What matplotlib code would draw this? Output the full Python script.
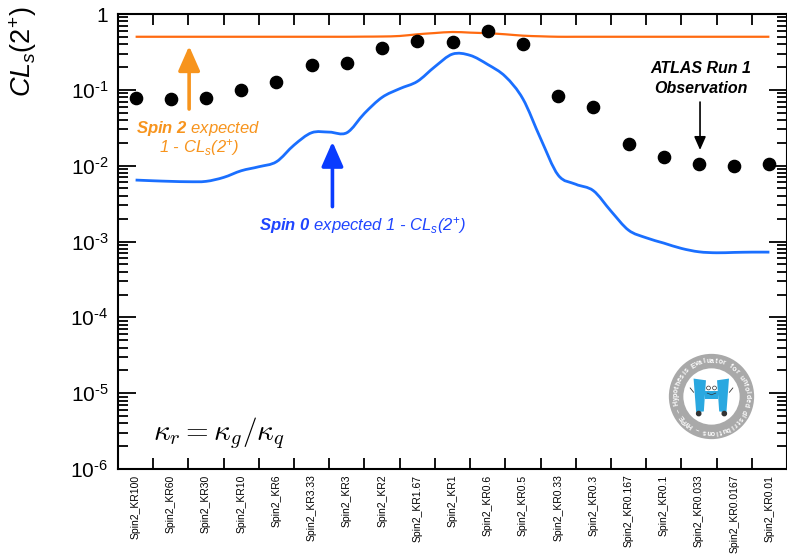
import numpy as np
import matplotlib
matplotlib.use("Agg")
import matplotlib.pyplot as plt
from matplotlib.patches import Circle, Polygon, PathPatch
from matplotlib.path import Path

plt.rcParams["font.family"] = ["Liberation Sans", "DejaVu Sans"]
plt.rcParams["mathtext.fontset"] = "custom"
plt.rcParams["mathtext.rm"] = "Liberation Sans"
plt.rcParams["mathtext.it"] = "Liberation Sans:italic"
plt.rcParams["mathtext.bf"] = "Liberation Sans:bold"
plt.rcParams["mathtext.bfit"] = "Liberation Sans:italic:bold"

hypotheses = ["Spin2_KR100", "Spin2_KR60", "Spin2_KR30", "Spin2_KR10", "Spin2_KR6",
              "Spin2_KR3.33", "Spin2_KR3", "Spin2_KR2", "Spin2_KR1.67", "Spin2_KR1",
              "Spin2_KR0.6", "Spin2_KR0.5", "Spin2_KR0.33", "Spin2_KR0.3", "Spin2_KR0.167",
              "Spin2_KR0.1", "Spin2_KR0.033", "Spin2_KR0.0167", "Spin2_KR0.01"]

# ATLAS Run 1 observed CLs(2+)
observed = [0.077, 0.076, 0.079, 0.100, 0.125, 0.212, 0.223, 0.36, 0.44, 0.43,
            0.60, 0.40, 0.083, 0.0587, 0.0193, 0.0132, 0.0105, 0.0100, 0.0104]

curve_pos = np.arange(0, 18.5, 0.5)
spin2_expected = [0.501, 0.501, 0.501, 0.501, 0.501, 0.501, 0.501, 0.501, 0.501,
                  0.501, 0.501, 0.501, 0.501, 0.503, 0.505, 0.513, 0.540, 0.561,
                  0.579, 0.568, 0.557, 0.540, 0.518, 0.508, 0.501, 0.501, 0.501,
                  0.501, 0.501, 0.501, 0.501, 0.501, 0.501, 0.501, 0.501, 0.501, 0.501]
spin0_expected = [0.00646, 0.00632, 0.00621, 0.00614, 0.00621, 0.0070, 0.00857,
                  0.00968, 0.01127, 0.0187, 0.0272, 0.0277, 0.0272, 0.049, 0.0796,
                  0.1035, 0.129, 0.202, 0.296, 0.285, 0.216, 0.150, 0.0759, 0.0229,
                  0.00752, 0.00569, 0.00468, 0.00252, 0.00141, 0.00112, 0.000953,
                  0.000811, 0.000731, 0.00071, 0.000718, 0.000724, 0.000724]

ytick_vals = [1e-6, 1e-5, 1e-4, 1e-3, 1e-2, 1e-1, 1]
ytick_labels = [r"$\mathregular{10^{\text{-}6}}$", r"$\mathregular{10^{\text{-}5}}$",
                r"$\mathregular{10^{\text{-}4}}$", r"$\mathregular{10^{\text{-}3}}$",
                r"$\mathregular{10^{\text{-}2}}$", r"$\mathregular{10^{\text{-}1}}$", "1"]


def smooth_path(x, y):
    # ROOT "C"-style drawing: cubic Bezier segments through the points (log-y space)
    px = np.asarray(x, dtype=float)
    py = np.log10(np.asarray(y, dtype=float))
    n = len(px)
    verts = [(px[0], py[0])]
    codes = [Path.MOVETO]
    for i in range(n - 1):
        i0, i3 = max(i - 1, 0), min(i + 2, n - 1)
        c1 = (px[i] + (px[i + 1] - px[i0]) / 6, py[i] + (py[i + 1] - py[i0]) / 6)
        c2 = (px[i + 1] - (px[i3] - px[i]) / 6, py[i + 1] - (py[i3] - py[i]) / 6)
        verts += [c1, c2, (px[i + 1], py[i + 1])]
        codes += [Path.CURVE4] * 3
    verts = [(vx, 10 ** vy) for vx, vy in verts]
    return Path(verts, codes)


fig = plt.figure(figsize=(7.87, 5.59), dpi=100)
ax = fig.add_axes([118 / 787, 1 - 469 / 559, 669 / 787, 455 / 559])
ax.set_yscale("log")
ax.set_ylim(1e-6, 1)
ax.set_xlim(-0.5, len(hypotheses) - 0.5)

ax.add_patch(PathPatch(smooth_path(curve_pos, spin2_expected), facecolor="none",
                       edgecolor="#ff6a10", lw=1.6, zorder=2))
ax.add_patch(PathPatch(smooth_path(curve_pos, spin0_expected), facecolor="none",
                       edgecolor="#1a6fff", lw=2.0, zorder=2))
ax.plot(range(len(hypotheses)), observed, "o", color="black", ms=8.8, zorder=3)

# axes styling, ROOT-like
for s in ax.spines.values():
    s.set_linewidth(1.5)
ax.set_yticks(ytick_vals)
ax.set_yticklabels(ytick_labels, fontsize=15)
ax.yaxis.set_minor_locator(matplotlib.ticker.LogLocator(base=10, subs=np.arange(2, 10)))
ax.yaxis.set_minor_formatter(matplotlib.ticker.NullFormatter())
ax.tick_params(axis="y", which="both", direction="in", left=True, right=True, width=1.3)
ax.tick_params(axis="y", which="major", length=13, pad=7)
ax.tick_params(axis="y", which="minor", length=7)

ax.set_xticks(range(len(hypotheses)))
ax.set_xticklabels(hypotheses, rotation=90, fontsize=7.5)
ax.set_xticks(np.arange(0.5, len(hypotheses) - 1, 1), minor=True)
ax.tick_params(axis="x", which="major", length=0, pad=4)
ax.tick_params(axis="x", which="minor", direction="in", top=True, bottom=True,
               length=8, width=1.3)

fig.text(23 / 787, 1 - 6 / 559, r"$\mathit{CL_{s}(2^{+})}$", rotation=90,
         ha="center", va="top", fontsize=19.5)

# annotations
orange = "#f7941d"
blue = "#1f45ff"
ax.annotate("", xy=(1.52, 0.378), xytext=(1.52, 0.0558),
            arrowprops=dict(arrowstyle="-|>,head_length=0.75,head_width=0.33",
                            color=orange, lw=2.6, mutation_scale=20, shrinkA=0, shrinkB=0))
ax.text(1.77, 0.0313, r"$\mathbfit{Spin\ 2}$ expected", color=orange, style="italic",
        fontsize=12, ha="center", va="center")
ax.text(1.81, 0.0171, r"1 - $\mathit{CL_{s}}$(2$^{+}$)", color=orange, style="italic",
        fontsize=12, ha="center", va="center")

ax.annotate("", xy=(5.59, 0.0207), xytext=(5.59, 0.00288),
            arrowprops=dict(arrowstyle="-|>,head_length=0.75,head_width=0.33",
                            color="#0a3cff", lw=2.6, mutation_scale=20, shrinkA=0, shrinkB=0))
ax.text(6.43, 0.00164, r"$\mathbfit{Spin\ 0}$ expected 1 - $\mathit{CL_{s}}$(2$^{+}$)",
        color=blue, style="italic", fontsize=12, ha="center", va="center")

ax.text(16.06, 0.194, "ATLAS Run 1", fontsize=11.5, weight="bold", style="italic",
        ha="center", va="center")
ax.text(16.06, 0.1056, "Observation", fontsize=11.5, weight="bold", style="italic",
        ha="center", va="center")
ax.annotate("", xy=(16.03, 0.0161), xytext=(16.03, 0.069),
            arrowprops=dict(arrowstyle="-|>,head_length=0.5,head_width=0.22",
                            color="black", lw=1.2, mutation_scale=16, shrinkA=0, shrinkB=0))

ax.text(2.37, 2.97e-6, r"$\kappa_r = \kappa_g/\kappa_q$", math_fontfamily="cm",
        fontsize=21, ha="center", va="center")

# HYPE logo
lax = fig.add_axes([668 / 787, 1 - 440 / 559, 87 / 787, 87 / 559])
lax.set_xlim(-1.02, 1.02)
lax.set_ylim(-1.02, 1.02)
lax.set_aspect("equal")
lax.axis("off")
lax.add_patch(Circle((0, 0), 1.0, color="#a9a9a9", lw=0))
lax.add_patch(Circle((0, 0), 0.66, color="white", lw=0))
ring_text = "Hypothesis Evaluator for unfolded distributions \u2013 HYPE \u2013 "
step = 360.0 / len(ring_text)
for k, ch in enumerate(ring_text):
    a = 190 - k * step
    r = np.deg2rad(a)
    lax.text(0.83 * np.cos(r), 0.83 * np.sin(r), ch, rotation=a - 90, color="white",
             fontsize=5, weight="bold", ha="center", va="center")
hblue = "#2aa8e0"
lax.add_patch(Polygon([(-0.42, 0.42), (-0.13, 0.38), (-0.18, -0.35), (-0.36, -0.37)],
                      color=hblue, lw=0))
lax.add_patch(Polygon([(0.13, 0.38), (0.41, 0.42), (0.35, -0.37), (0.18, -0.35)],
                      color=hblue, lw=0))
lax.add_patch(Polygon([(-0.16, 0.12), (0.16, 0.12), (0.16, -0.06), (-0.16, -0.06)],
                      color=hblue, lw=0))
for ex in (-0.07, 0.07):
    lax.add_patch(Circle((ex, 0.2), 0.045, facecolor="white", edgecolor="#333333", lw=0.5))
lax.plot([-0.1, 0.0, 0.1], [0.08, 0.04, 0.08], color="#333333", lw=0.5)
lax.plot([-0.42, -0.5], [0.1, 0.2], color="#333333", lw=0.6)
lax.plot([0.42, 0.5], [0.1, 0.2], color="#333333", lw=0.6)
lax.add_patch(Circle((-0.3, -0.4), 0.05, color="#333333"))
lax.add_patch(Circle((0.3, -0.4), 0.05, color="#333333"))

fig.savefig("out.png", dpi=100)
